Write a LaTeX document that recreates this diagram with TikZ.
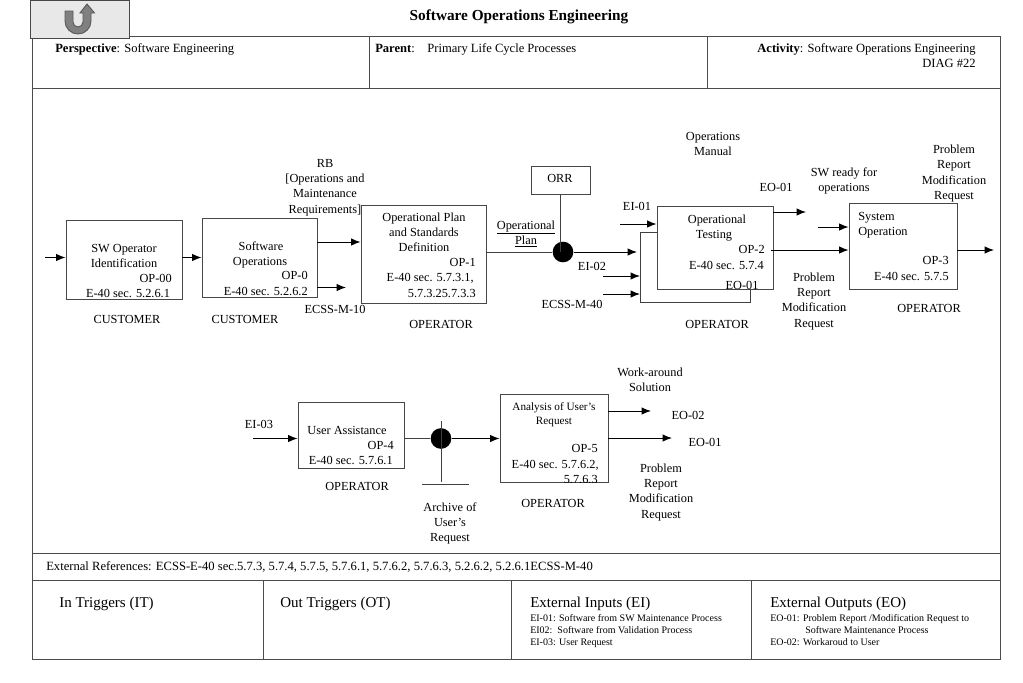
\documentclass[tikz,border=0pt]{standalone}
\usepackage{fontspec}
\setmainfont{Liberation Serif}
\usetikzlibrary{arrows.meta}
\tikzset{
  x=0.75pt,y=-0.75pt,
  rule/.style={draw=black!70,line width=0.65pt},
  box/.style={draw=black!72,line width=0.7pt,inner sep=0pt,rectangle},
  arr/.style={draw=black,line width=0.7pt,-{Latex[length=7pt,width=5.5pt]}},
  wire/.style={draw=black!75,line width=0.65pt},
  dot/.style={circle,fill=black,inner sep=0pt,minimum size=15.5pt},
  tc/.style={font=\fontsize{9.25pt}{11pt}\selectfont,inner sep=0pt,anchor=base,yshift=-3pt},
  tr/.style={font=\fontsize{9.25pt}{11pt}\selectfont,inner sep=0pt,anchor=base east,yshift=-3pt},
  tl/.style={font=\fontsize{9.25pt}{11pt}\selectfont,inner sep=0pt,anchor=base west,yshift=-3pt},
  hd/.style={font=\fontsize{9.42pt}{11pt}\selectfont},
  big/.style={font=\fontsize{11.25pt}{13pt}\selectfont,inner sep=0pt,anchor=base west,yshift=-3.5pt},
  small/.style={font=\fontsize{7.5pt}{8pt}\selectfont,inner sep=0pt,anchor=base west,yshift=-2.3pt},
}
\begin{document}
\begin{tikzpicture}
\useasboundingbox (0,0) rectangle (1023,682);
\fill[white] (0,0) rectangle (1023,682);
% frame
\draw[rule] (32,36) rectangle (1000,659);
\draw[rule] (32,88) -- (1000,88);
\draw[rule] (32,553) -- (1000,553);
\draw[rule] (32,580) -- (1000,580);
\draw[rule] (369,36) -- (369,88);
\draw[rule] (707,36) -- (707,88);
\draw[rule] (263,580) -- (263,659);
\draw[rule] (511,580) -- (511,659);
\draw[rule] (751,580) -- (751,659);
% back button
\node[box,fill=black!9,anchor=north west,minimum width=74.25pt,minimum height=28.5pt] (back) at (30,0) {};
\draw[draw=black!65,fill=black!50,line width=0.7pt]
  (65,11) -- (73,11) -- (73,22) .. controls (73,24.8) and (75.2,27) .. (78,27)
  .. controls (80.8,27) and (83,24.8) .. (83,22) -- (83,13) -- (80,13) -- (87,4) -- (94.5,13) -- (91,13) -- (91,21)
  .. controls (91,28.2) and (85.2,34) .. (78,34) .. controls (70.8,34) and (65,28.2) .. (65,21) -- cycle;
% header
\node[tc,font=\bfseries\fontsize{11.45pt}{13pt}\selectfont] (title) at (519,16) {Software Operations Engineering};
\node[tl,hd] (persp) at (55,48) {\textbf{Perspective}: Software Engineering};
\node[tl,hd] (parent) at (375,48) {\textbf{Parent}:\quad Primary Life Cycle Processes};
\node[tr,hd] (activity) at (976,48) {\textbf{Activity}: Software Operations Engineering};
\node[tr,hd] (diag) at (976,63) {DIAG \#22};
% boxes
\node[box,minimum width=87pt,minimum height=59.25pt] (b1) at (124,259.5) {};
\node[box,minimum width=86.25pt,minimum height=59.25pt] (b2) at (259.5,257.5) {};
\node[box,minimum width=93.75pt,minimum height=73.5pt] (b3) at (423.5,254) {};
\node[box,minimum width=44.25pt,minimum height=21pt] (orr) at (560.5,180) {};
\node[box,minimum width=87pt,minimum height=62.25pt] (b4) at (715,247.5) {};
\node[box,minimum width=81pt,minimum height=64.5pt] (b5) at (903,246) {};
\node[box,minimum width=79.5pt,minimum height=49.5pt] (b6) at (351,435) {};
\node[box,minimum width=81pt,minimum height=66pt] (b7) at (554,438) {};
\node[dot] (j1) at (563,252) {};
\node[dot] (j2) at (441,438.5) {};
% free ends
\coordinate (in1) at (45,257.5);
\coordinate (o2a) at (317,242);
\coordinate (o2b) at (317,287.5);
\coordinate (e2b) at (346,287.5);
\coordinate (l3) at (486,252);
\coordinate (t1) at (637,252);
\coordinate (i1) at (620,224);
\coordinate (i2) at (603,276);
\coordinate (i3) at (603,294);
\coordinate (i2e) at (640,276);
\coordinate (i3e) at (640,294);
\coordinate (la) at (657,232);
\coordinate (lb) at (640,232);
\coordinate (lc) at (640,302);
\coordinate (ld) at (750,302);
\coordinate (o4a) at (773,212);
\coordinate (o4ae) at (806,212);
\coordinate (i5) at (818,227);
\coordinate (o4b) at (771,250);
\coordinate (o5) at (957,250);
\coordinate (o5e) at (994,250);
\coordinate (i6) at (253,438.5);
\coordinate (o7a) at (608,411);
\coordinate (o7ae) at (651,411);
\coordinate (o7b) at (608,438);
\coordinate (o7be) at (672,438);
\coordinate (up2) at (441,421);
\coordinate (dn2) at (441,482);
\coordinate (arcl) at (422,484);
\coordinate (arcr) at (469,484);
% connectors
\draw[arr] (in1) -- (b1.west |- in1);
\draw[arr] (b1.east |- in1) -- (b2.west |- in1);
\draw[arr] (o2a) -- (b3.west |- o2a);
\draw[arr] (o2b) -- (e2b);
\draw[wire] (l3) -- (j1);
\draw[wire] (orr.south) -- (orr.south |- j1);
\draw[arr] (j1) -- (t1);
\draw[arr] (i1) -- (b4.west |- i1);
\draw[arr] (i2) -- (i2e);
\draw[arr] (i3) -- (i3e);
\draw[wire] (la) -- (lb) -- (lc) -- (ld) -- (ld |- b4.south);
\draw[arr] (o4a) -- (o4ae);
\draw[arr] (i5) -- (b5.west |- i5);
\draw[arr] (o4b) -- (b5.west |- o4b);
\draw[arr] (o5) -- (o5e);
\draw[arr] (i6) -- (b6.west |- i6);
\draw[wire] (b6.east |- i6) -- (j2);
\draw[arr] (j2) -- (b7.west |- i6);
\draw[wire] (up2) -- (dn2);
\draw[wire] (arcl) -- (arcr);
\draw[arr] (o7a) -- (o7ae);
\draw[arr] (o7b) -- (o7be);
% box 1
\node[tc] (t1a) at (124,248) {SW Operator};
\node[tc] (t1b) at (124,263) {Identification};
\node[tr] (t1c) at (172,278) {OP-00};
\node[tc] (t1d) at (128,293) {E-40 sec. 5.2.6.1};
\node[tc] (c1) at (127,319) {CUSTOMER};
% box 2
\node[tc] (t2a) at (261,246) {Software};
\node[tc] (t2b) at (260,261) {Operations};
\node[tr] (t2c) at (308,275) {OP-0};
\node[tr] (t2d) at (308,291) {E-40 sec. 5.2.6.2};
\node[tc] (c2) at (245,319) {CUSTOMER};
\node[tc] (rb1) at (325,163) {RB};
\node[tc] (rb2) at (325,178) {[Operations and};
\node[tc] (rb3) at (325,193) {Maintenance};
\node[tc] (rb4) at (325,209) {Requirements]};
\node[tc] (m10) at (335,309) {ECSS-M-10};
% box 3
\node[tc] (t3a) at (424,217) {Operational Plan};
\node[tc] (t3b) at (424,232) {and Standards};
\node[tc] (t3c) at (424,247) {Definition};
\node[tr] (t3d) at (476,262) {OP-1};
\node[tr] (t3e) at (474,277) {E-40 sec. 5.7.3.1,};
\node[tr] (t3f) at (476,293) {5.7.3.25.7.3.3};
\node[tc] (c3) at (441,324) {OPERATOR};
\node[tc] (pl1) at (526,225) {\underline{Operational}};
\node[tc] (pl2) at (526,240) {\underline{Plan}};
\node[tc] (orrt) at (560,178) {ORR};
% box 4
\node[tc] (om1) at (713,136) {Operations};
\node[tc] (om2) at (713,151) {Manual};
\node[tc] (eo1) at (776,187) {EO-01};
\node[tc] (ei1) at (637,206) {EI-01};
\node[tc] (t4a) at (717,219) {Operational};
\node[tc] (t4b) at (714,234) {Testing};
\node[tr] (t4c) at (765,249) {OP-2};
\node[tr] (t4d) at (764,265) {E-40 sec. 5.7.4};
\node[tc] (eo1b) at (742,285) {EO-01};
\node[tc] (ei2) at (592,266) {EI-02};
\node[tc] (m40) at (572,304) {ECSS-M-40};
\node[tc] (c4) at (717,324) {OPERATOR};
\node[tc] (pr1) at (814,277) {Problem};
\node[tc] (pr2) at (814,292) {Report};
\node[tc] (pr3) at (814,307) {Modification};
\node[tc] (pr4) at (814,323) {Request};
% box 5
\node[tc] (sw1) at (844,172) {SW ready for};
\node[tc] (sw2) at (844,187) {operations};
\node[tc] (q1) at (954,149) {Problem};
\node[tc] (q2) at (954,164) {Report};
\node[tc] (q3) at (954,180) {Modification};
\node[tc] (q4) at (954,195) {Request};
\node[tl] (t5a) at (858,216) {System};
\node[tl] (t5b) at (858,231) {Operation};
\node[tr] (t5c) at (949,260) {OP-3};
\node[tr] (t5d) at (949,276) {E-40 sec. 5.7.5};
\node[tc] (c5) at (929,308) {OPERATOR};
% box 6
\node[tc] (ei3) at (259,424) {EI-03};
\node[tc] (t6a) at (347,430) {User Assistance};
\node[tr] (t6b) at (394,445) {OP-4};
\node[tr] (t6c) at (393,460) {E-40 sec. 5.7.6.1};
\node[tc] (c6) at (357,486) {OPERATOR};
\node[tc] (ar1) at (450,507) {Archive of};
\node[tc] (ar2) at (450,522) {User's};
\node[tc] (ar3) at (450,537) {Request};
% box 7
\node[tc,font=\fontsize{8.4pt}{10pt}\selectfont] (t7a) at (554,406) {Analysis of User's};
\node[tc,font=\fontsize{8.4pt}{10pt}\selectfont] (t7b) at (554,420) {Request};
\node[tr] (t7c) at (598,448) {OP-5};
\node[tr] (t7d) at (599,464) {E-40 sec. 5.7.6.2,};
\begin{scope}
\clip (500,394) rectangle (608,482);
\node[tr] (t7e) at (598,479) {5.7.6.3};
\end{scope}
\node[tc] (c7) at (553,503) {OPERATOR};
\node[tc] (wa1) at (650,372) {Work-around};
\node[tc] (wa2) at (650,387) {Solution};
\node[tc] (eo2) at (688,415) {EO-02};
\node[tc] (eo1c) at (705,442) {EO-01};
\node[tc] (r1) at (661,468) {Problem};
\node[tc] (r2) at (661,483) {Report};
\node[tc] (r3) at (661,498) {Modification};
\node[tc] (r4) at (661,514) {Request};
% footer
\node[tl,font=\fontsize{9.46pt}{11pt}\selectfont] (ext) at (46,566) {External References: ECSS-E-40 sec.5.7.3, 5.7.4, 5.7.5, 5.7.6.1, 5.7.6.2, 5.7.6.3, 5.2.6.2, 5.2.6.1ECSS-M-40};
\node[big] (it) at (59,603) {In Triggers (IT)};
\node[big] (ot) at (280,603) {Out Triggers (OT)};
\node[big] (ein) at (530,603) {External Inputs (EI)};
\node[small] (ein1) at (530,618) {EI-01: Software from SW Maintenance Process};
\node[small] (ein2) at (530,630) {EI02:\ \ Software from Validation Process};
\node[small] (ein3) at (530,642) {EI-03: User Request};
\node[big] (eou) at (770,603) {External Outputs (EO)};
\node[small] (eou1) at (770,618) {EO-01: Problem Report /Modification Request to};
\node[small] (eou2) at (805,630) {Software Maintenance Process};
\node[small] (eou3) at (770,642) {EO-02: Workaroud to User};
\end{tikzpicture}
\end{document}
